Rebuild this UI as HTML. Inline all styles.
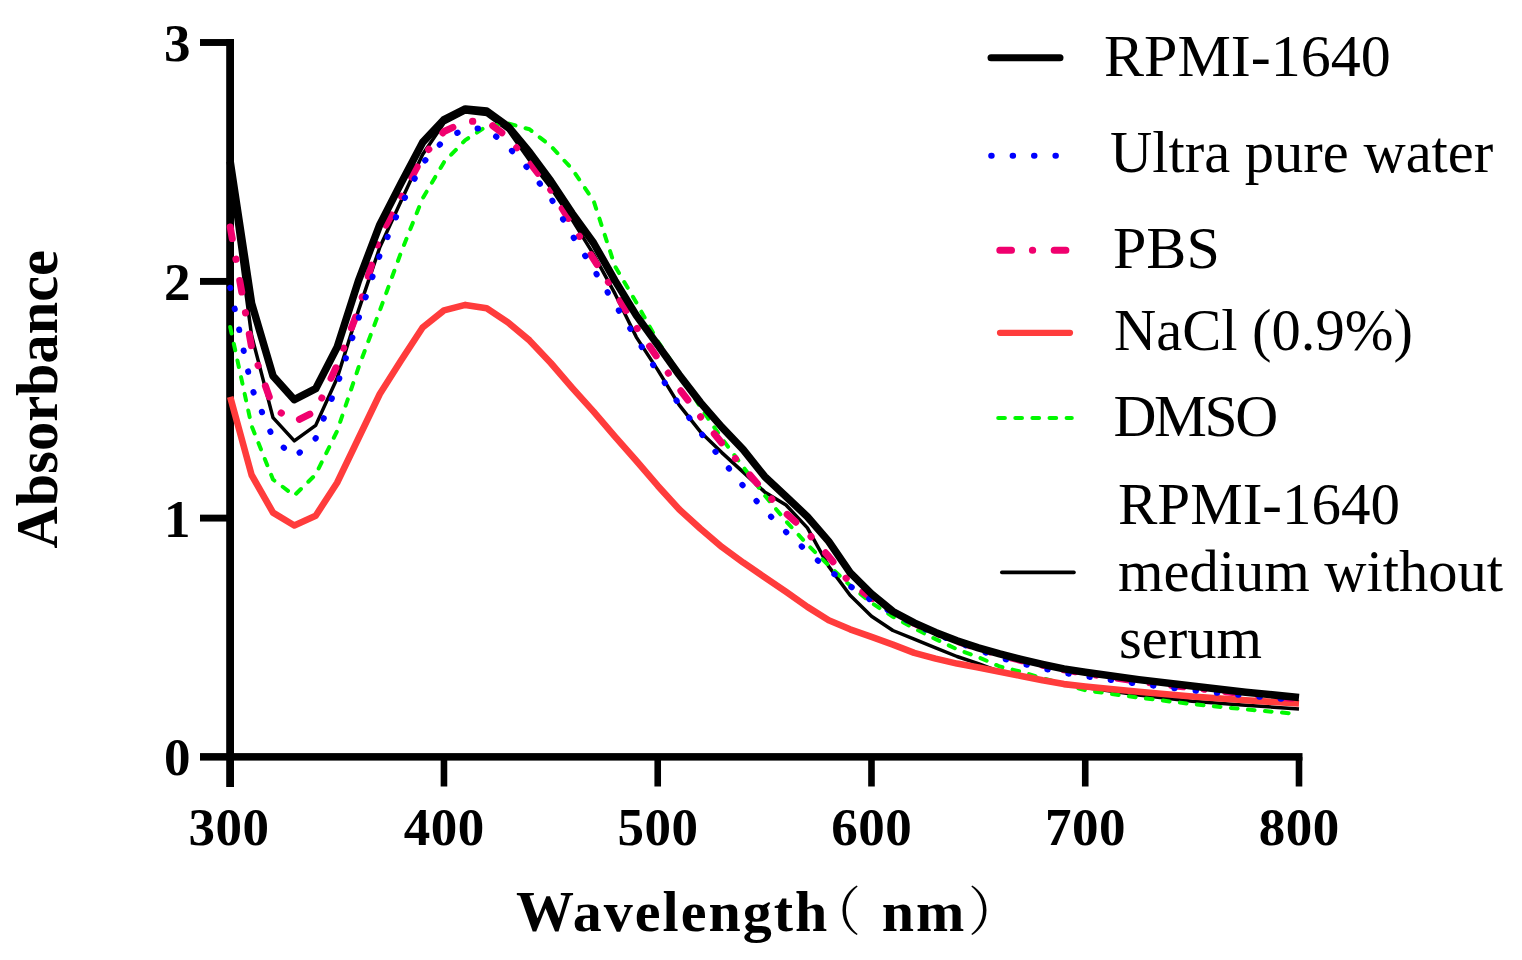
<!DOCTYPE html>
<html><head><meta charset="utf-8"><title>Absorbance spectra</title>
<style>html,body{margin:0;padding:0;background:#fff;}svg{display:block;}</style>
</head><body>
<svg width="1522" height="960" viewBox="0 0 1522 960">
<rect width="1522" height="960" fill="#fff"/>
<g fill="#000">
<rect x="226.2" y="39" width="7.8" height="748"/>
<rect x="200" y="753.1" width="1102.5" height="7.5"/>
<rect x="200" y="39.05" width="34" height="6.9"/>
<rect x="200" y="277.95" width="34" height="6.9"/>
<rect x="200" y="514.65" width="34" height="6.9"/>
<rect x="440.66" y="757" width="6.6" height="29.5"/>
<rect x="654.42" y="757" width="6.6" height="29.5"/>
<rect x="868.18" y="757" width="6.6" height="29.5"/>
<rect x="1081.94" y="757" width="6.6" height="29.5"/>
<rect x="1295.70" y="757" width="6.6" height="29.5"/>
</g>
<path d="M230.2,175.8 L251.6,335.4 L273.0,417.6 L294.3,440.9 L315.7,425.4 L337.1,378.3 L358.5,310.4 L379.8,247.3 L401.2,200.8 L422.6,154.4 L444.0,122.9 L465.3,112.0 L486.7,114.6 L508.1,130.1 L529.5,160.3 L550.8,187.7 L572.2,219.9 L593.6,254.4 L615.0,293.7 L636.3,337.1 L657.7,369.9 L679.1,404.9 L700.5,431.9 L721.8,452.6 L743.2,472.1 L764.6,491.9 L786.0,505.0 L807.4,527.9 L828.7,566.4 L850.1,595.3 L871.5,616.2 L892.9,630.5 L914.2,639.1 L935.6,647.9 L957.0,656.5 L978.4,663.6 L999.7,671.7 L1021.1,676.3 L1042.5,680.8 L1063.9,684.6 L1085.2,687.4 L1138.7,695.1 L1192.1,701.3 L1245.6,705.3 L1299.0,708.9" fill="none" stroke="#000" stroke-width="3.5" stroke-linejoin="round"/>
<path d="M230.2,327.0 L251.6,425.9 L273.0,479.5 L294.3,495.5 L315.7,474.5 L337.1,431.1 L358.5,367.5 L379.8,310.6 L401.2,252.0 L422.6,198.4 L444.0,162.2 L465.3,140.1 L486.7,126.2 L508.1,123.4 L529.5,129.3 L550.8,146.0 L572.2,169.1 L593.6,200.8 L615.0,266.3 L636.3,302.5 L657.7,341.1 L679.1,372.8 L700.5,407.3 L721.8,438.3 L743.2,466.9 L764.6,495.2 L786.0,521.2 L807.4,544.5 L828.7,565.5 L850.1,585.5 L871.5,602.9 L892.9,616.7 L914.2,628.4 L935.6,639.1 L957.0,649.3 L978.4,657.2 L999.7,666.5 L1021.1,671.7 L1042.5,678.2 L1063.9,684.1 L1085.2,690.3 L1138.7,697.7 L1192.1,704.1 L1245.6,709.4 L1299.0,714.1" fill="none" stroke="#00f800" stroke-width="4" stroke-dasharray="6.7 10.4" stroke-linecap="round" stroke-linejoin="round"/>
<path d="M230.2,396.8 L251.6,475.0 L273.0,512.6 L294.3,525.5 L315.7,515.7 L337.1,482.8 L358.5,438.3 L379.8,394.0 L401.2,360.2 L422.6,327.5 L444.0,310.4 L465.3,304.9 L486.7,308.2 L508.1,322.5 L529.5,340.4 L550.8,363.0 L572.2,387.8 L593.6,411.6 L615.0,436.6 L636.3,460.7 L657.7,485.7 L679.1,509.3 L700.5,528.8 L721.8,546.9 L743.2,562.6 L764.6,577.2 L786.0,591.7 L807.4,606.9 L828.7,620.3 L850.1,629.3 L871.5,636.9 L892.9,644.6 L914.2,652.9 L935.6,658.6 L957.0,663.6 L978.4,667.4 L999.7,671.7 L1021.1,676.0 L1042.5,680.3 L1063.9,684.1 L1085.2,686.5 L1138.7,691.7 L1192.1,696.5 L1245.6,700.3 L1299.0,703.4" fill="none" stroke="#ff3c3c" stroke-width="6.6" stroke-linejoin="round"/>
<path d="M230.2,227.0 L251.6,347.3 L273.0,407.3 L294.3,422.1 L315.7,411.1 L337.1,365.2 L358.5,309.7 L379.8,236.3 L401.2,197.0 L422.6,156.7 L444.0,131.5 L465.3,121.5 L486.7,121.0 L508.1,137.7 L529.5,162.2 L550.8,190.1 L572.2,224.6 L593.6,259.2 L615.0,292.5 L636.3,327.3 L657.7,358.0 L679.1,388.5 L700.5,416.6 L721.8,443.1 L743.2,467.3 L764.6,491.9 L786.0,513.3 L807.4,532.6 L828.7,556.4 L850.1,583.1 L871.5,597.9 L892.9,611.9 L914.2,623.4 L935.6,632.9 L957.0,641.2 L978.4,648.6 L999.7,654.8 L1021.1,660.5 L1042.5,665.3 L1063.9,669.8 L1085.2,673.4 L1138.7,681.5 L1192.1,687.9 L1245.6,693.9 L1299.0,699.1" fill="none" stroke="#f0006e" stroke-width="7" stroke-dasharray="11.7 20.9 0.3 21.5" stroke-linecap="round" stroke-linejoin="round"/>
<path d="M230.2,287.7 L251.6,387.8 L273.0,437.8 L294.3,457.3 L315.7,438.3 L337.1,385.4 L358.5,318.7 L379.8,255.1 L401.2,204.9 L422.6,163.2 L444.0,140.1 L465.3,128.6 L486.7,128.6 L508.1,146.7 L529.5,170.1 L550.8,197.9 L572.2,235.3 L593.6,269.2 L615.0,304.4 L636.3,338.2 L657.7,372.1 L679.1,404.5 L700.5,432.6 L721.8,459.7 L743.2,485.9 L764.6,510.2 L786.0,531.9 L807.4,551.7 L828.7,569.8 L850.1,586.2 L871.5,600.5 L892.9,612.9 L914.2,624.3 L935.6,633.9 L957.0,642.2 L978.4,649.8 L999.7,657.7 L1021.1,663.4 L1042.5,668.4 L1063.9,672.9 L1085.2,676.3 L1138.7,683.9 L1192.1,690.3 L1245.6,695.5 L1299.0,700.5" fill="none" stroke="#0000ff" stroke-width="6" stroke-dasharray="0.5 20.9" stroke-linecap="round"/>
<path d="M230.2,161.5 L251.6,303.2 L273.0,375.9 L294.3,399.7 L315.7,388.7 L337.1,347.3 L358.5,280.6 L379.8,224.6 L401.2,182.9 L422.6,142.4 L444.0,119.6 L465.3,108.9 L486.7,111.0 L508.1,126.5 L529.5,152.2 L550.8,181.0 L572.2,213.4 L593.6,243.0 L615.0,280.6 L636.3,315.4 L657.7,344.9 L679.1,374.7 L700.5,402.6 L721.8,427.1 L743.2,449.7 L764.6,476.4 L786.0,496.6 L807.4,516.7 L828.7,541.4 L850.1,572.6 L871.5,593.8 L892.9,611.5 L914.2,622.9 L935.6,632.4 L957.0,640.8 L978.4,647.9 L999.7,653.9 L1021.1,659.3 L1042.5,664.3 L1063.9,668.9 L1085.2,672.2 L1138.7,679.6 L1192.1,686.0 L1245.6,692.2 L1299.0,697.5" fill="none" stroke="#000" stroke-width="7.5" stroke-linejoin="round"/>
<g font-family="'Liberation Serif','Times New Roman',serif" font-weight="bold" font-size="53" fill="#000" text-anchor="middle">
<text x="177.3" y="60.9">3</text>
<text x="177.3" y="299.8">2</text>
<text x="177.3" y="536.5">1</text>
<text x="177.3" y="775.4">0</text>
<text x="229.0" y="845" letter-spacing="0.5">300</text>
<text x="444.2" y="845" letter-spacing="0.5">400</text>
<text x="658.0" y="845" letter-spacing="0.5">500</text>
<text x="871.7" y="845" letter-spacing="0.5">600</text>
<text x="1085.5" y="845" letter-spacing="0.5">700</text>
<text x="1299.2" y="845" letter-spacing="0.5">800</text>
</g>
<text transform="translate(56.8,399.2) rotate(-90)" font-family="'Liberation Serif','Times New Roman',serif" font-weight="bold" font-size="58.4" text-anchor="middle">Absorbance</text>
<text x="516" y="930.5" font-family="'Liberation Serif','Times New Roman',serif" font-weight="bold" font-size="58" letter-spacing="2">Wavelength<tspan dx="-21.2" font-family="'Liberation Serif','Noto Serif CJK SC','Noto Sans CJK SC',serif" font-weight="normal" font-size="53">（</tspan><tspan dx="18.8">nm</tspan><tspan dx="1.6" font-family="'Liberation Serif','Noto Serif CJK SC','Noto Sans CJK SC',serif" font-weight="normal" font-size="53">）</tspan></text>
<line x1="991" y1="57.75" x2="1060" y2="57.75" stroke="#000" stroke-width="7" stroke-linecap="round"/>
<line x1="991.2" y1="155.8" x2="1058" y2="155.8" stroke="#0000ff" stroke-width="6" stroke-dasharray="0.5 20.9" stroke-linecap="round"/>
<line x1="999.8" y1="250.3" x2="1068" y2="250.3" stroke="#f0006e" stroke-width="7" stroke-dasharray="11.7 20.9 0.3 21.5" stroke-linecap="round"/>
<line x1="1000" y1="332.8" x2="1070" y2="332.8" stroke="#ff3c3c" stroke-width="6.2" stroke-linecap="round"/>
<line x1="998.2" y1="417.9" x2="1071.8" y2="417.9" stroke="#00f800" stroke-width="4" stroke-dasharray="6.7 10.4" stroke-linecap="round"/>
<line x1="1001.8" y1="572.4" x2="1074" y2="572.4" stroke="#000" stroke-width="3.6" stroke-linecap="round"/>
<g font-family="'Liberation Serif','Times New Roman',serif" font-size="58.5" fill="#000">
<text x="1104" y="76" font-size="60">RPMI-1640</text>
<text x="1110" y="172.4">Ultra pure water</text>
<text x="1113" y="267.6" font-size="60">PBS</text>
<text x="1114" y="349.6">NaCl (0.9%)</text>
<text x="1113.5" y="435.6" font-size="59.5" letter-spacing="-2.4">DMSO</text>
<text x="1118" y="523.8" font-size="59">RPMI-1640</text>
<text x="1118" y="590.5">medium without</text>
<text x="1119" y="657.6">serum</text>
</g>
</svg>
</body></html>
